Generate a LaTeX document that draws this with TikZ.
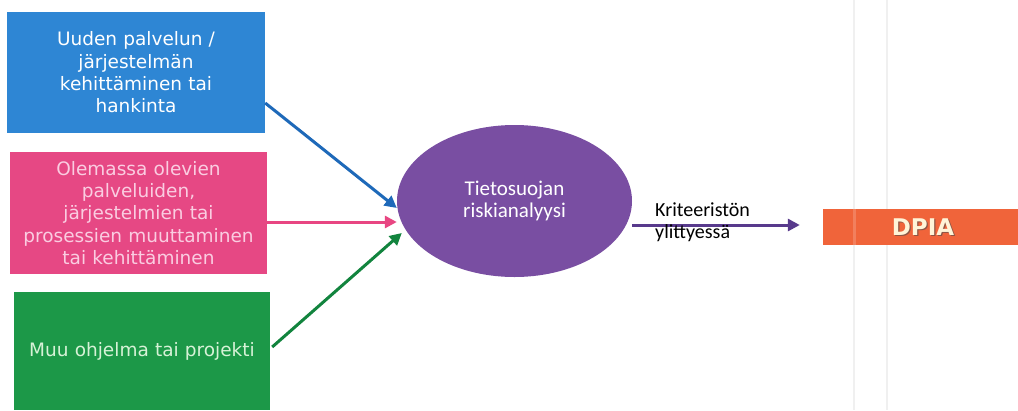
\documentclass[tikz,border=0pt]{standalone}
\usepackage{fontspec}
\setmainfont{DejaVu Sans}
\newfontfamily\calib{Carlito}
\usetikzlibrary{arrows.meta,shapes.geometric}
\definecolor{cblue}{RGB}{46,134,212}
\definecolor{cpink}{RGB}{230,72,132}
\definecolor{cgreen}{RGB}{28,152,72}
\definecolor{cpurple}{RGB}{121,78,162}
\definecolor{corange}{RGB}{240,100,58}
\definecolor{ablue}{RGB}{30,105,185}
\definecolor{apink}{RGB}{232,70,130}
\definecolor{agreen}{RGB}{18,132,62}
\definecolor{apurple}{RGB}{88,58,140}
\definecolor{ptext}{RGB}{250,205,225}
\definecolor{gtext}{RGB}{215,242,215}
\definecolor{dtext}{RGB}{255,244,215}
\begin{document}
\begin{tikzpicture}[x=1pt,y=-1pt,
  inbox/.style={rectangle, inner sep=0pt, align=center, text width=254pt,
    font=\fontsize{18.5}{22.3}\selectfont},
  conn/.style={line width=3pt, -{Triangle[length=12pt,width=12pt]}}]
\useasboundingbox (0,0) rectangle (1018,410);
\fill[white] (0,0) rectangle (1018,410);
% faint vertical lines
\draw[black!6, line width=1.5pt] (854,0) -- (854,410);
\draw[black!6, line width=1.5pt] (887,0) -- (887,410);
% boxes
\node[inbox, fill=cblue, text=white, minimum width=258pt, minimum height=121pt] (blue) at (136,72.5)
  {Uuden palvelun /\\järjestelmän\\kehittäminen tai\\hankinta};
\node[inbox, fill=cpink, text=ptext, minimum width=257pt, minimum height=122pt] (pink) at (138.5,213)
  {Olemassa olevien\\palveluiden,\\järjestelmien tai\\prosessien muuttaminen\\tai kehittäminen};
\node[inbox, fill=cgreen, text=gtext, minimum width=256pt, minimum height=118pt] (green) at (142,351)
  {Muu ohjelma tai projekti};
% ellipse
\node[ellipse, fill=cpurple, text=white, minimum width=235pt, minimum height=152pt, inner sep=0pt,
  align=center, font=\calib\fontsize{21}{22.5}\selectfont] (ell) at (514.5,201)
  {Tietosuojan\\riskianalyysi};
% DPIA
\node[rectangle, fill=corange, minimum width=195pt, minimum height=36pt, inner sep=0pt] (dpia) at (920.5,227) {};
\fill[white, opacity=0.18] (853,209) rectangle (856,245);
\node[font=\bfseries\fontsize{23}{25}\selectfont, text=black!70, opacity=0.6] at (924.2,228.2) {DPIA};
\node[font=\bfseries\fontsize{23}{25}\selectfont, text=dtext] (dlabel) at (923,227) {DPIA};
% connectors
\draw[conn, ablue] ([yshift=-30.5pt]blue.east) -- ([yshift=-7pt]ell.west);
\draw[conn, apink] ([yshift=-9pt]pink.east) -- ([yshift=-21pt,xshift=0pt]ell.west);
\draw[conn, agreen] ([yshift=4pt,xshift=2pt]green.east) -- ([yshift=-32pt,xshift=5pt]ell.west);
\coordinate (kend) at ([xshift=-23pt,yshift=2pt]dpia.west);
\draw[conn, apurple] ([yshift=-24pt]ell.east) -- (kend);
\node[anchor=north west, align=left, inner sep=0pt, font=\calib\fontsize{20}{21.5}\selectfont] (krit) at (655,203)
  {Kriteeristön\\ylittyessä};
\end{tikzpicture}
\end{document}
